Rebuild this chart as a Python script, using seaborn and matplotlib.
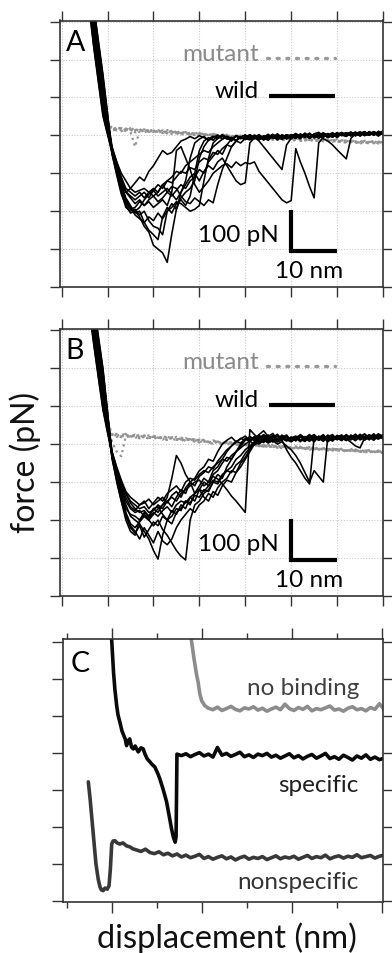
import matplotlib
matplotlib.use('Agg')
import matplotlib.pyplot as plt
import seaborn as sns

sns.set_theme(style='white')
plt.rcParams['font.family'] = ['Lato', 'DejaVu Sans']

# ---------------- data ----------------
# shared sampling positions (nm) for panels A and B
X_GRID = [6, 7, 8, 9, 10, 11, 12, 13, 14, 15, 16, 17, 18, 19, 20, 21, 22, 23, 24, 25,
          26, 27, 28, 29, 30, 31, 32, 33, 34, 35, 36, 37, 38, 39, 40, 41, 42, 43, 44, 45,
          46, 47, 48, 49, 50, 51, 52, 53, 54, 55, 56, 57, 58, 59, 60, 61, 62, 63, 64, 65,
          66, 67, 68, 69, 70]

# Panel A - wild type traces (pN)
A_W1 = [430, 327, 236, 146, 50, -45, -90, -140, -175, -190, -200, -215, -240, -255, -290,
        -300, -310, -335, -260, -195, -165, -150, -140, -120, -60, -30, -12, -3, -9, 2, -8, -14, -1, -6, -11,
        0, -7, -3, -12, -4, 3, -6, -9, 1, -2, -8, 4, -3, 6, -5, 0, 7, -2, 3, -6, 5, 1, 9, -1, 6, 2, 8, 0, 11, 4]
A_W2 = [360, 257, 166, 76, 15, -40, -85, -130, -165, -185, -205, -200, -230, -250, -262,
        -275, -215, -190, -205, -180, -170, -185, -160, -100, -40, -15, -6, -13, 0, -9, -4, -15, -2, -8, 1,
        -10, -5, 2, -11, -3, -7, 4, -6, -1, -9, 2, -4, 5, -7, 1, -3, 6, 0, -5, 4, 1, 7, -2, 5, 9, 0, 4, 10, 3, 6]
A_W3 = [445, 342, 251, 161, 58, -50, -100, -150, -190, -200, -195, -210, -200, -225, -240,
        -245, -262, -200, -180, -195, -150, -120, -60, -20, -10, -3, -14, -6, 1, -10, -2, -8, -13, -4, 0,
        -9, -2, -11, -5, 3, -8, -1, -6, 2, -4, 5, -3, 1, -6, 4, 8, -2, 3, -4, 6, 0, 5, 2, 8, -1, 7, 3, 9, 1, 5]
A_W4 = [340, 237, 146, 56, 5, -35, -75, -120, -150, -165, -180, -170, -185, -175, -190,
        -180, -170, -185, -150, -40, -30, -60, -90, -130, -150, -135, -120, -100, -90, -80, -75, -85, -70, -80, -72,
        -75, -70, -95, -110, -125, -140, -155, -170, -178, -172, -35, -70, -100, -135, -165, -20, -5, 2, -4, 6,
        1, -3, 7, 2, 9, 4, 0, 8, 5, 10]
A_W5 = [405, 302, 211, 121, 38, -38, -78, -118, -148, -160, -170, -160, -150, -165, -145,
        -130, -140, -120, -125, -110, -95, -100, -85, -90, -70, -60, -65, -45, -50, -35, -25, -30, -15, -20, -8,
        -12, -5, -15, -30, -45, -60, -75, -90, -25, -8, -2, -9, 3, -5, 1, -7, 4, -1, 6, 0, 3, -2, 6, 1, 8, -1, 5, 2, 9, 3]
A_W6 = [375, 272, 181, 91, 22, -45, -95, -145, -180, -195, -190, -175, -185, -170, -160,
        -175, -165, -150, -160, -145, -130, -140, -120, -110, -90, -100, -70, -55, -40, -50, -25, -10, -2, -9, -4,
        1, -8, -3, -12, 0, -6, -10, 2, -5, -1, -7, 3, -2, 5, -4, 0, -9, -15, -25, -38, -50, -62, -8, 4, 0, 7, 2, 9, 3, 6]
A_W7 = [420, 317, 226, 136, 45, -30, -70, -110, -140, -150, -160, -150, -165, -150, -140,
        -150, -130, -150, -135, -140, -160, -175, -180, -165, -175, -185, -170, -178, -130, -90, -60, -30, -15, -5, -11,
        -3, -9, 1, -6, -13, -2, -7, 0, -10, -3, 4, -5, 0, -8, 3, -2, 5, -6, 1, 7, -1, 4, 8, 0, 5, 10, 2, 6, -2, 8]
A_W8 = [350, 247, 156, 66, 10, -50, -105, -155, -185, -205, -200, -190, -170, -155, -145,
        -160, -150, -140, -155, -170, -150, -130, -110, -100, -120, -95, -80, -90, -70, -60, -80, -100, -120, -130, -125,
        -20, -6, -12, -1, -8, 2, -4, -11, -2, -7, 0, -5, 6, -3, 2, -8, 3, -1, 5, -4, 6, 0, 3, 9, -2, 5, 1, 7, 4, 12]
A_W9 = [390, 287, 196, 106, 30, -35, -70, -100, -120, -140, -150, -145, -140, -150, -160,
        -150, -130, -120, -110, -95, -100, -80, -70, -60, -50, -40, -45, -30, -20, -10, -4, -12, 0, -7, -3,
        -10, 1, -5, -9, -2, -6, 3, -8, -3, 2, -6, 1, -2, 4, -7, 2, 0, 5, -3, 3, 8, 2, 5, -1, 4, 9, 1, 5, 8, 2]
A_W10 = [440, 337, 246, 156, 55, -40, -85, -135, -170, -190, -210, -220, -230, -215, -225,
         -205, -220, -200, -190, -175, -180, -190, -200, -195, -185, -120, -60, -20, -8, -2, -10, -5, -14, -3, -8,
         2, -6, -10, -3, -7, 0, -12, -4, 1, -6, -3, 2, -6, 3, -1, 5, -4, 1, 7, -2, 4, -1, 6, 3, 7, 1, 10, 4, 6, 9]
A_W11 = [335, 232, 141, 51, 2, -45, -90, -130, -150, -140, -125, -110, -120, -95, -80,
         -60, -40, -50, -45, -30, -15, -10, -3, -9, -1, -6, -11, -2, -7, 0, -4, -9, -13, -5, 1,
         -8, -3, -10, -1, -6, -4, 1, -9, -5, 0, 3, -4, 1, -7, 2, -2, 4, -6, 2, 5, 2, 7, 0, 4, 6, 3, 9, 1, 7, 3]

# Panel A - mutant traces (pN)
A_M1 = [392, 286, 196, 105, 30, 16, 20, 14, 18, 12, 17, 10, 15, 13, 9, 14, 8, 12, 6, 11, 5, 9, 3, 8, 2,
        6, 0, 4, -2, 3, -3, 1, -5, 0, -6, -2, -7, -4, -9, -5, -10, -6, -11, -8, -12, -9, -13, -10, -15, -11,
        -14, -12, -16, -13, -17, -14, -18, -15, -20, -16, -19, -17, -21, -18, -20]
A_M2 = [390, 284, 194, 104, 28, 12, 17, 21, 13, 16, 8, 14, 11, 16, 7, 10, 13, 5, 9, 7, 12, 4, 7, 1, 6,
        2, 5, -1, 2, -4, 0, -2, -6, -1, -4, -8, -3, -6, -11, -7, -4, -10, -13, -9, -7, -12, -10, -14, -8, -13,
        -16, -11, -15, -12, -18, -15, -13, -19, -16, -14, -21, -17, -15, -22, -19]
A_M3 = [391, 285, 195, 106, 31, 18, 13, 19, 15, 10, -30, 12, 16, 9, 13, 7, 11, 9, 4, 8, 2, 6, 5, 0, 4,
        -1, 3, -3, 1, -2, -5, -1, -3, -7, -2, -5, -9, -6, -3, -10, -7, -12, -8, -6, -11, -14, -9, -12, -10, -15,
        -12, -9, -14, -17, -13, -16, -20, -14, -18, -22, -17, -20, -16, -19, -23]
A_M4 = [389, 287, 197, 104, 29, 14, 22, 16, 11, 19, 14, 17, 8, 12, 15, 9, 6, 14, 10, 3, 9, 7, 1, 5, 3,
        4, -2, 1, -4, 2, -1, -6, 0, -3, -8, -4, -6, -9, -5, -8, -12, -7, -10, -13, -9, -11, -15, -8, -12, -14,
        -10, -16, -13, -11, -15, -18, -14, -17, -21, -15, -18, -22, -19, -16, -21]
A_M5 = [393, 285, 195, 105, 30, 20, 15, 11, 17, 14, 20, 9, 13, 10, 12, 12, 9, 7, 12, 5, 7, 2, 8, 4, -1,
        3, 1, 5, -1, -3, 2, -4, -2, 1, -5, -3, -1, -7, -4, -2, -8, -5, -9, -4, -10, -7, -11, -6, -13, -9,
        -11, -14, -8, -15, -10, -13, -16, -12, -17, -19, -14, -18, -15, -20, -17]

# Panel B - wild type traces (pN)
B_W1 = [450, 357, 270, 185, 78, -28, -78, -120, -160, -190, -200, -210, -230, -250, -280,
        -303, -240, -200, -210, -180, -170, -150, -160, -130, -110, -90, -100, -70, -60, -40, -20, -5, 5, 15, 10,
        18, 8, 22, 13, 6, 19, 11, 24, 9, 16, 21, 12, 7, 18, 25, 14, 9, 20, 13, 23, 16, 10, 22, 15, 26, 12, 19, 24, 14, 21]
B_W2 = [380, 287, 200, 115, 43, -25, -75, -115, -150, -170, -180, -175, -190, -200, -215,
        -200, -225, -240, -260, -280, -295, -305, -200, -160, -150, -130, -120, -100, -80, -90, -60, -40, -20, 0, 15,
        10, 20, 7, 17, 12, 23, 8, 15, 21, 11, 17, 6, 20, 13, 24, 10, 18, 7, 22, 15, 12, 24, 17, 9, 20, 27, 14, 18, 23, 13]
B_W3 = [465, 372, 285, 200, 86, -35, -100, -150, -200, -230, -240, -200, -180, -190, -170,
        -180, -160, -150, -165, -140, -120, -130, -100, -90, -70, -60, -40, -45, -20, 0, 10, 18, 6, 14, 21,
        9, 16, 24, 11, 18, 5, 15, 20, 10, 17, 8, 19, 14, 23, 11, 16, 25, 9, 18, 12, 20, 15, 11, 25, 17, 13, 22, 18, 26, 16]
B_W4 = [360, 267, 180, 95, 33, -22, -65, -100, -130, -150, -160, -170, -165, -180, -175,
        -160, -170, -150, -140, -150, -130, -120, -110, -100, -95, -110, -100, -85, -92, -105, -120, -137, -150, -165, -180,
        38, 25, 14, 22, 9, 17, 26, 12, 19, 8, 15, 22, 11, 18, 6, 20, 13, 24, 10, 17, 23, 14, 19, 11, 21, 16, 25, 13, 20, 18]
B_W5 = [425, 332, 245, 160, 66, -30, -70, -110, -140, -165, -175, -160, -150, -170, -155,
        -140, -150, -130, -120, -110, -125, -100, -90, -95, -80, -70, -75, -60, -50, -40, -45, -30, -20, -10, 0,
        8, -2, 5, 12, 3, 9, 0, 6, -5, -15, -30, -50, -75, -100, -70, -85, -100, 22, 12, 18, 9, 20, 14, 25, 11, 17, 22, 15, 19, 24]
B_W6 = [395, 302, 215, 130, 50, -35, -85, -130, -170, -185, -190, -200, -185, -195, -180,
        -190, -175, -165, -180, -160, -150, -155, -140, -130, -120, -125, -110, -95, -100, -80, -70, -60, -40, -30, -15,
        -5, 5, 0, 10, 4, 12, 6, 10, -15, -35, -50, -70, -90, -105, 18, 10, 22, 14, 9, 20, 15, 25, 12, 18, 23, 10, 21, 16, 27, 19]
B_W7 = [440, 347, 260, 175, 73, -20, -60, -95, -125, -140, -150, -160, -155, -145, -160,
        -150, -140, -155, -135, -125, -140, -115, -100, -110, -85, -75, -60, -65, -45, -30, -15, -5, 8, 2, 14,
        6, 18, 11, 4, 16, 22, 9, 14, 19, 7, 13, 20, 8, 16, 24, 11, 19, 6, 17, 12, 21, 14, 5, -5, -10, 16, 24, 18, 13, 22]
B_W8 = [370, 277, 190, 105, 38, -32, -90, -135, -180, -210, -220, -205, -190, -200, -185,
        -170, -160, -140, -90, -30, -50, -80, -100, -130, -120, -140, -150, -125, -135, -110, -95, -100, -75, -60, -40,
        -20, 0, 15, 25, 18, 10, 22, 14, 8, 19, 12, 25, 16, 7, 20, 14, 23, 9, 18, 15, 10, 22, 17, 26, 13, 19, 11, 24, 16, 21]
B_W9 = [410, 317, 230, 145, 58, -40, -95, -150, -190, -220, -235, -215, -245, -225, -205,
        -215, -190, -200, -175, -185, -160, -170, -140, -150, -120, -100, -110, -80, -70, -50, -35, -40, -20, -5, 10,
        20, 12, 5, 17, 24, 9, 15, 21, 11, 6, 18, 23, 10, 15, 7, 21, 13, 19, 25, 12, 17, 9, 24, 15, 20, 12, 18, 27, 15, 20]
B_W10 = [460, 367, 280, 195, 83, -30, -85, -140, -185, -215, -230, -250, -220, -240, -260,
         -230, -255, -265, -250, -220, -200, -185, -170, -180, -160, -150, -130, -140, -115, -100, -90, -70, -75, -50, -35,
         -15, 5, 25, 35, 20, 28, 12, 18, 24, 9, 16, 21, 13, 25, 10, 18, 22, 14, 8, 19, 24, 13, 18, 21, 12, 26, 17, 10, 22, 18]
B_W11 = [355, 262, 175, 90, 30, -28, -70, -105, -130, -155, -170, -180, -175, -190, -170,
         -165, -185, -200, -190, -170, -175, -150, -155, -135, -140, -120, -125, -100, -105, -85, -70, -75, -55, -45, -25,
         -10, 5, 15, 8, 20, 13, 6, 22, 16, 11, 20, 9, 17, 24, 12, 18, 7, 21, 14, 19, 13, 21, 16, 11, 24, 19, 14, 22, 17, 25]

# Panel B - mutant traces (pN)
B_M1 = [411, 318, 230, 145, 59, 22, 27, 20, 25, 18, 24, 21, 17, 23, 19, 15, 21, 17, 13, 19, 12, 16, 10, 14, 8,
        12, 6, 10, 4, 8, 2, 6, 0, 4, -2, 2, -3, 0, -5, -1, -7, -3, -8, -4, -9, -6, -10, -7, -12, -8,
        -13, -10, -14, -11, -15, -12, -17, -13, -18, -15, -19, -16, -20, -18, -21]
B_M2 = [410, 317, 231, 146, 58, 5, -20, -32, 22, 26, 19, 24, 20, 16, 22, 18, 14, 20, 16, 11, 17, 13, 9, 15, 7,
        11, 5, 9, 3, 7, 1, 5, -1, 3, -4, 0, -5, -2, -7, -3, -8, -5, -10, -6, -11, -8, -12, -9, -14, -10,
        -15, -12, -16, -13, -17, -14, -18, -15, -20, -17, -21, -18, -22, -19, -23]
B_M3 = [409, 316, 229, 144, 57, 26, 21, 28, 22, 19, 25, 17, 23, 20, 15, 20, 16, 12, 18, 14, 9, 15, 11, 6, 12,
        7, 3, 9, 5, 0, 6, 2, -3, 3, -1, -4, 1, -6, -2, -8, -4, -6, -11, -7, -12, -9, -13, -10, -8, -14,
        -11, -16, -12, -15, -13, -17, -14, -19, -16, -20, -17, -22, -18, -21, -24]
B_M4 = [412, 319, 232, 147, 61, 20, 24, 18, 27, 21, 16, 22, 19, 14, 20, 17, 12, 19, 15, 10, 16, 8, 13, 10, 5,
        9, 4, 1, 7, 3, -2, 4, 1, -5, 0, -3, -6, -1, -9, -5, -2, -10, -7, -9, -12, -10, -7, -13, -11, -15,
        -9, -14, -17, -12, -16, -19, -15, -18, -14, -21, -18, -16, -22, -20, -19]
B_M5 = [410, 318, 230, 145, 58, 24, 19, 23, 17, 23, 20, 15, 21, 18, 13, 19, 15, 11, 17, 13, 8, 14, 10, 12, 4,
        8, 5, 2, 6, -1, 4, 0, 2, -4, -2, -6, -1, -5, -3, -9, -6, -8, -5, -11, -8, -13, -9, -11, -15, -12,
        -10, -16, -13, -17, -14, -16, -20, -15, -19, -17, -23, -19, -21, -17, -22]

# Panel C - single traces (x in nm, y in grid units of 100 pN steps)
C_NOBIND_X = [27.6, 28.3, 28.9, 29.2, 29.6, 30.0, 30.7,
              31.5, 32.5, 33.5, 34.5, 35.5, 36.5, 37.5, 38.5, 39.5, 40.5,
              41.5, 42.5, 43.5, 44.5, 45.5, 46.5, 47.5, 48.5, 49.5, 50.5,
              51.5, 52.5, 53.5, 54.5, 55.5, 56.5, 57.5, 58.5, 59.5, 60.5,
              61.5, 62.5, 63.5, 64.5, 65.5, 66.5, 67.5, 68.5, 69.5, 70.5]
C_NOBIND_Y = [715, 654, 609, 592, 559, 541, 528,
              521, 517, 524, 515, 520, 526, 518, 514, 522, 519,
              525, 516, 521, 513, 519, 524, 517, 532, 520, 515,
              523, 518, 526, 514, 520, 517, 522, 527, 516, 519,
              513, 521, 525, 517, 520, 514, 523, 518, 533, 519]

C_SPEC_X = [9.95, 10.4, 10.7, 11.1, 11.4, 11.8, 12.3, 13.0, 13.3, 13.6,
            14.0, 14.4, 14.8, 15.2, 15.9, 16.5, 17.0, 17.4, 17.9, 18.5,
            18.9, 19.6, 20.3, 20.7, 21.4, 22.2, 22.7, 23.3, 23.7, 24.1,
            24.3, 24.4, 24.5,
            25.5, 26.5, 27.5, 28.5, 29.5, 30.5, 31.5, 32.5, 33.5, 34.5,
            35.5, 36.5, 37.5, 38.5, 39.5, 40.5, 41.5, 42.5, 43.5, 44.5,
            45.5, 46.5, 47.5, 48.5, 49.5, 50.5, 51.5, 52.5, 53.5, 54.5,
            55.5, 56.5, 57.5, 58.5, 59.5, 60.5, 61.5, 62.5, 63.5, 64.5,
            65.5, 66.5, 67.5, 68.5, 69.5, 70.5]
C_SPEC_Y = [715, 619, 573, 528, 503, 484, 459, 438, 420, 432,
            438, 416, 411, 419, 403, 414, 411, 397, 384, 376,
            370, 362, 343, 330, 303, 268, 235, 195, 173, 159,
            173, 276, 397,
            393, 398, 390, 396, 401, 392, 397, 389, 415, 394,
            399, 391, 396, 402, 390, 395, 388, 397, 393, 399,
            389, 394, 386, 392, 398, 387, 393, 384, 391, 396,
            386, 392, 399, 385, 390, 383, 394, 388, 381, 392,
            386, 395, 383, 389, 382, 386]

C_NONSPEC_X = [4.8, 5.2, 5.6, 6.1, 6.5, 7.0, 7.4, 7.7, 8.1, 8.5,
               9.0, 9.4, 9.7, 10.0, 10.3, 10.7, 11.2, 11.8, 12.5, 13.3,
               14.1, 14.7,
               15.5, 16.5, 17.5, 18.5, 19.5, 20.5, 21.5, 22.5, 23.5, 24.5,
               25.5, 26.5, 27.5, 28.5, 29.5, 30.5, 31.5, 32.5, 33.5, 34.5,
               35.5, 36.5, 37.5, 38.5, 39.5, 40.5, 41.5, 42.5, 43.5, 44.5,
               45.5, 46.5, 47.5, 48.5, 49.5, 50.5, 51.5, 52.5, 53.5, 54.5,
               55.5, 56.5, 57.5, 58.5, 59.5, 60.5, 61.5, 62.5, 63.5, 64.5,
               65.5, 66.5, 67.5, 68.5, 69.5, 70.5]
C_NONSPEC_Y = [322, 276, 222, 154, 100, 59, 38, 30, 28, 35,
               32, 41, 86, 154, 162, 163, 157, 154, 157, 149,
               146, 141,
               138, 134, 140, 131, 128, 133, 125, 129, 122, 127,
               119, 124, 117, 121, 126, 115, 120, 113, 118, 122,
               114, 119, 111, 117, 121, 113, 118, 115, 120, 112,
               117, 122, 114, 119, 116, 121, 113, 118, 123, 115,
               120, 117, 124, 114, 119, 122, 116, 121, 118, 125,
               117, 120, 123, 116, 121, 124]

A_WILD = [A_W1, A_W2, A_W3, A_W4, A_W5, A_W6, A_W7, A_W8, A_W9, A_W10, A_W11]
A_MUT = [A_M1, A_M2, A_M3, A_M4, A_M5]
B_WILD = [B_W1, B_W2, B_W3, B_W4, B_W5, B_W6, B_W7, B_W8, B_W9, B_W10, B_W11]
B_MUT = [B_M1, B_M2, B_M3, B_M4, B_M5]

X_TICKS = [0, 10, 20, 30, 40, 50, 60, 70]
Y_TICKS_AB = [-400, -300, -200, -100, 0, 100, 200, 300]
Y_TICKS_C = [0, 100, 200, 300, 400, 500, 600, 700]

# ---------------- drawing ----------------
W, H = 392, 954
fig = plt.figure(figsize=(W / 100, H / 100), dpi=100)
fig.patch.set_facecolor('white')


def px_axes(left, top, right, bottom):
    return fig.add_axes([left / W, 1 - bottom / H, (right - left) / W, (bottom - top) / H])


def curve(ax, xs, ys, **kw):
    n = min(len(xs), len(ys))
    sns.lineplot(x=xs[:n], y=ys[:n], ax=ax, sort=False, estimator=None,
                 legend=False, **kw)


SPINE = '#333333'
FS_TXT = 17.5


def style_box(ax):
    for sp in ax.spines.values():
        sp.set_visible(True)
        sp.set_color(SPINE)
        sp.set_linewidth(1.2)
    ax.set_facecolor('white')
    ax.set_xlabel('')
    ax.set_ylabel('')


def force_panel(ax, wild, mutant, label):
    for m in mutant:
        curve(ax, X_GRID, m, color='#939393', linewidth=1.6, linestyle=':')
    for w in wild:
        curve(ax, X_GRID, w, color='black', linewidth=1.15)
    ax.set_xlim(-0.35, 70)
    ax.set_ylim(-400, 303)
    ax.set_xticks(X_TICKS)
    ax.set_yticks(Y_TICKS_AB)
    ax.grid(True, color='#c9c9c9', linestyle=(0, (1, 1.5)), linewidth=0.8)
    ax.set_axisbelow(True)
    ax.tick_params(which='both', direction='out', length=7, width=1, color=SPINE,
                   top=True, right=True, bottom=True, left=True,
                   labelbottom=False, labelleft=False)
    style_box(ax)
    # legend-like annotations
    ax.text(42.9, 200, 'mutant', ha='right', va='baseline', color='#8a8a8a', fontsize=FS_TXT)
    ax.plot([44.8, 59.6], [205, 205], color='#999999', linewidth=2.4,
            linestyle=(0, (0.6, 2.3)), dash_capstyle='round')
    ax.text(42.9, 101, 'wild', ha='right', va='baseline', color='black', fontsize=FS_TXT)
    ax.plot([45.1, 59.6], [104, 104], color='black', linewidth=3.0, solid_capstyle='butt')
    # scale bar
    ax.plot([50, 50, 60], [-198, -306, -306], color='black', linewidth=3.0,
            solid_joinstyle='miter', solid_capstyle='butt')
    ax.text(47.2, -262, '100 pN', ha='right', va='center', color='black', fontsize=FS_TXT)
    ax.text(53.8, -357, '10 nm', ha='center', va='center', color='black', fontsize=FS_TXT)
    ax.text(0.018, 0.89, label, transform=ax.transAxes, ha='left', va='baseline',
            fontsize=20.5, color='black')


axA = px_axes(60, 21.5, 383, 288)
force_panel(axA, A_WILD, A_MUT, 'A')

axB = px_axes(60, 330, 383, 597)
force_panel(axB, B_WILD, B_MUT, 'B')

axC = px_axes(63.3, 639.5, 383, 903.3)
curve(axC, C_NOBIND_X, C_NOBIND_Y, color='#8c8c8c', linewidth=2.6)
curve(axC, C_SPEC_X, C_SPEC_Y, color='#0a0a0a', linewidth=2.6)
curve(axC, C_NONSPEC_X, C_NONSPEC_Y, color='#383838', linewidth=2.6)
axC.set_xlim(-0.76, 70.3)
axC.set_ylim(-3.5, 709.5)
axC.set_xticks([10, 30, 50, 70])
axC.set_xticks([0, 20, 40, 60], minor=True)
axC.set_yticks(Y_TICKS_C)
axC.grid(False)
axC.tick_params(which='major', direction='out', length=8, width=1, color=SPINE,
                top=True, right=True, bottom=True, left=True,
                labelbottom=False, labelleft=False)
axC.tick_params(which='minor', direction='out', length=4, width=1, color=SPINE,
                top=True, bottom=True, labelbottom=False)
style_box(axC)
axC.text(65.0, 578, 'no binding', ha='right', va='center', color='#404040', fontsize=FS_TXT)
axC.text(64.8, 316, 'specific', ha='right', va='center', color='#202020', fontsize=FS_TXT)
axC.text(64.8, 54, 'nonspecific', ha='right', va='center', color='#333333', fontsize=FS_TXT)
axC.text(0.022, 0.876, 'C', transform=axC.transAxes, ha='left', va='baseline',
         fontsize=20.5, color='black')

fig.text(25 / W, 1 - 462 / H, 'force (pN)', rotation=90, ha='center', va='center',
         fontsize=23, color='#111111')
fig.text(227 / W, 1 - 938 / H, 'displacement (nm)', ha='center', va='center',
         fontsize=23.5, color='#111111')

fig.savefig('out.png', dpi=100, facecolor='white')
